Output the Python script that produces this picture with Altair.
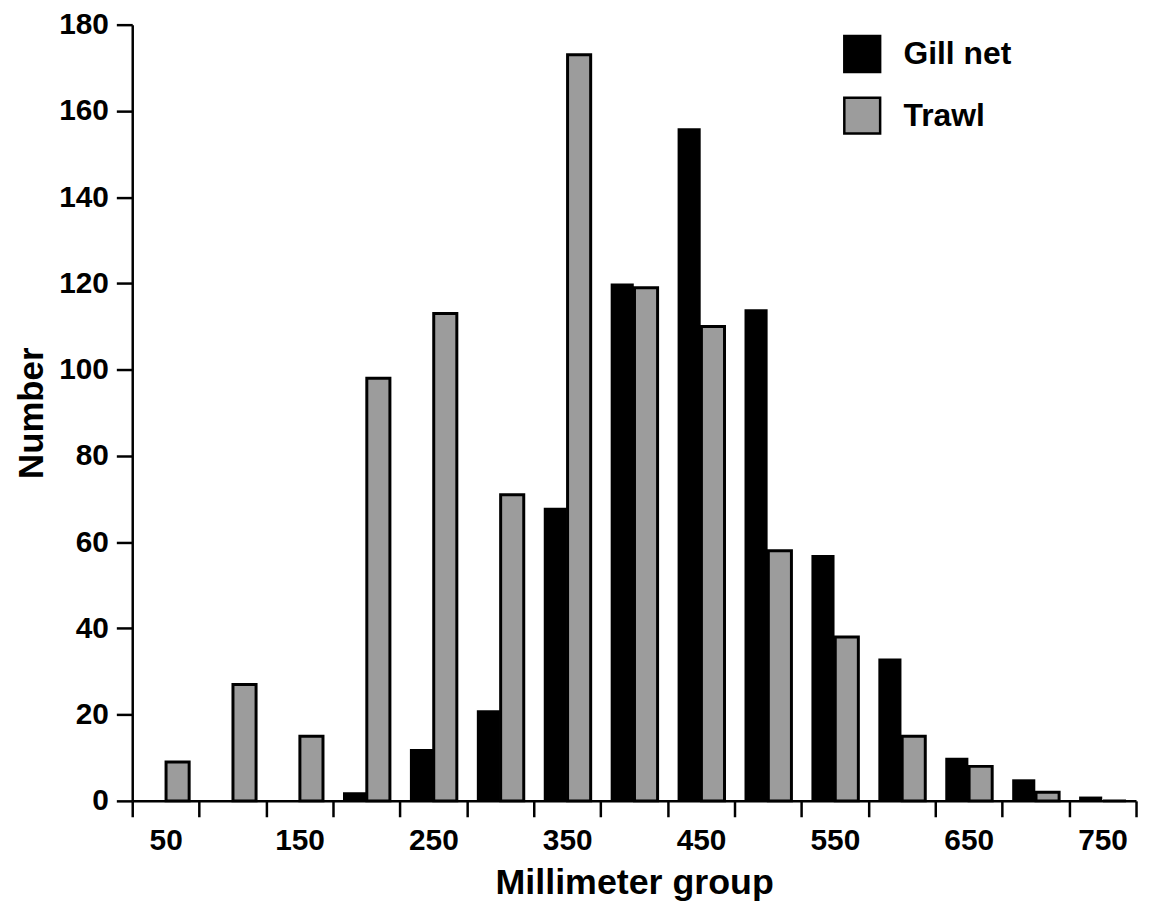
import altair as alt
import pandas as pd

groups = [50, 100, 150, 200, 250, 300, 350, 400, 450, 500, 550, 600, 650, 700, 750]
gill_net = [0, 0, 0, 2, 12, 21, 68, 120, 156, 114, 57, 33, 10, 5, 1]
trawl = [9, 27, 15, 98, 113, 71, 173, 119, 110, 58, 38, 15, 8, 2, 0]
methods = ["Gill net", "Trawl"]
colors = ["#000000", "#9c9c9c"]

rows = []
for g, a, b in zip(groups, gill_net, trawl):
    rows.append({"group": g, "method": "Gill net", "number": a})
    rows.append({"group": g, "method": "Trawl", "number": b})
df = pd.DataFrame(rows)

W, H = 1010, 781
FONT = "Liberation Sans"

bars = alt.Chart(df).mark_bar(stroke="black").encode(
    x=alt.X(
        "group:O",
        scale=alt.Scale(paddingInner=0, paddingOuter=0),
        axis=alt.Axis(
            title="Millimeter group",
            titleFont=FONT, titleFontSize=36, titleFontWeight="bold", titleColor="black",
            titlePadding=10,
            labelFont=FONT, labelFontSize=30, labelFontWeight="bold", labelColor="black",
            labelAngle=0, labelPadding=9, labelOverlap=False,
            labelExpr="datum.value % 100 == 50 ? datum.label : ''",
            tickBand="extent",
            tickSize=16, tickWidth=2.5, tickColor="black",
            domainColor="black", domainWidth=2.5,
            grid=False,
        ),
    ),
    xOffset=alt.XOffset("method:N", sort=methods,
                        scale=alt.Scale(paddingOuter=0.42, paddingInner=0.03)),
    y=alt.Y(
        "number:Q",
        scale=alt.Scale(domain=[0, 180], nice=False),
        axis=alt.Axis(
            title="Number",
            values=list(range(0, 181, 20)),
            titleFont=FONT, titleFontSize=35, titleFontWeight="bold", titleColor="black",
            titlePadding=9,
            labelFont=FONT, labelFontSize=30, labelFontWeight="bold", labelColor="black",
            labelPadding=8,
            tickSize=16, tickWidth=2.5, tickColor="black",
            domainColor="black", domainWidth=2.5,
            grid=False,
        ),
    ),
    fill=alt.Fill(
        "method:N",
        scale=alt.Scale(domain=methods, range=colors),
        legend=alt.Legend(
            title=None, orient="none", legendX=715, legendY=10,
            symbolType="square", symbolSize=1300,
            symbolStrokeColor="black", symbolStrokeWidth=2.5,
            labelFont=FONT, labelFontSize=32, labelFontWeight="bold", labelColor="black",
            labelOffset=22, rowPadding=15, padding=0,
        ),
    ),
    strokeWidth=alt.condition("datum.method === 'Trawl'", alt.value(3), alt.value(0)),
)

chart = bars.properties(
    width=W, height=H,
    autosize=alt.AutoSizeParams(type="none"),
    padding={"left": 125, "top": 14, "right": 5, "bottom": 100},
).configure_view(stroke=None)

chart.save("out.html", embed_options={"renderer": "svg", "actions": False})
